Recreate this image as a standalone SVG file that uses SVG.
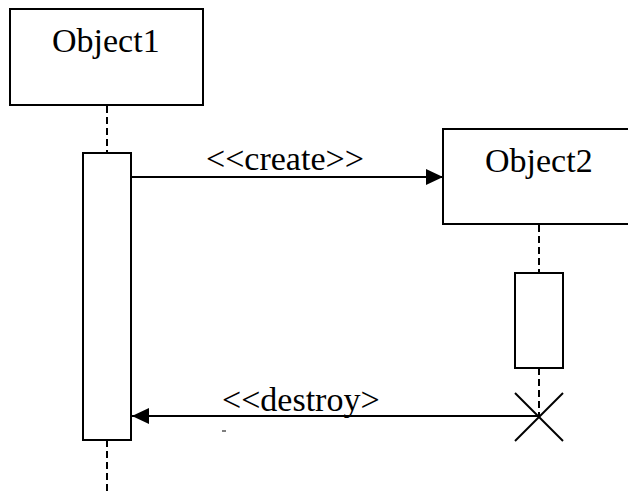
<svg xmlns="http://www.w3.org/2000/svg" width="628" height="491" viewBox="0 0 628 491" font-family="Liberation Serif, Times New Roman, serif">
  <defs>
    <style>
      .box { fill: #fff; stroke: #000; stroke-width: 2; }
      .life { stroke: #000; stroke-width: 2; stroke-dasharray: 7 4; fill: none; }
      .msg { stroke: #000; stroke-width: 2; fill: none; }
    </style>
    <marker id="arrow" markerWidth="17" markerHeight="16" refX="17" refY="8" orient="auto" markerUnits="userSpaceOnUse">
      <path d="M0,0 L17,8 L0,16 Z" fill="#000"/>
    </marker>
  </defs>
  <rect width="628" height="491" fill="#fff"/>

  <g id="lifelines">
    <line class="life" x1="107" y1="106" x2="107" y2="153"/>
    <line class="life" x1="107" y1="440" x2="107" y2="491"/>
    <line class="life" x1="539" y1="225" x2="539" y2="273"/>
    <line class="life" x1="539" y1="368" x2="539" y2="416"/>
  </g>

  <g id="object1">
    <rect class="box" x="10" y="9" width="193" height="96"/>
    <text x="52" y="52" font-family="Liberation Serif" font-size="34">Object1</text>
  </g>

  <g id="activation1">
    <rect class="box" x="83" y="153" width="48" height="287"/>
  </g>

  <g id="object2">
    <rect class="box" x="443" y="129" width="190" height="95"/>
    <text x="485" y="172" font-family="Liberation Serif" font-size="34">Object2</text>
  </g>

  <g id="activation2">
    <rect class="box" x="515" y="273" width="48" height="95"/>
  </g>

  <g id="destroy-x">
    <line class="msg" x1="515" y1="393" x2="563" y2="441"/>
    <line class="msg" x1="563" y1="393" x2="515" y2="441"/>
  </g>

  <g id="connectors">
    <line class="msg" x1="131" y1="177" x2="443" y2="177" marker-end="url(#arrow)"/>
    <text x="206" y="170" font-family="Liberation Serif" font-size="34">&lt;&lt;create&gt;&gt;</text>
    <line class="msg" x1="539" y1="416" x2="132" y2="416" marker-end="url(#arrow)"/>
    <text x="222" y="411" font-family="Liberation Serif" font-size="34">&lt;&lt;destroy&gt;</text>
    <line x1="222" y1="431" x2="226" y2="431" stroke="#555" stroke-width="1.5"/>
  </g>
</svg>
